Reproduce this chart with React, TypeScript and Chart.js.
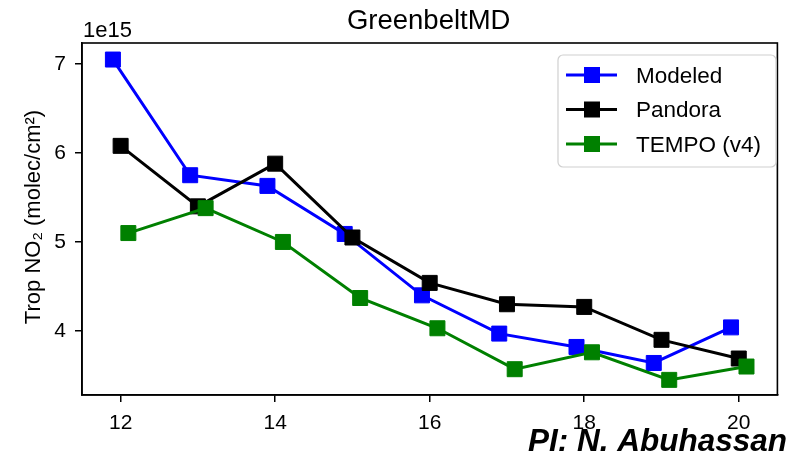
import React, { useEffect, useRef } from "react";
import { Chart, registerables } from "chart.js";

Chart.register(...registerables);

// ---- data (values in units of 1e15 molec/cm^2) ----
const HOURS = [12, 13, 14, 15, 16, 17, 18, 19, 20];
const MODELED = [7.05, 5.75, 5.63, 5.09, 4.4, 3.97, 3.82, 3.64, 4.04];
const PANDORA = [6.08, 5.4, 5.88, 5.05, 4.54, 4.3, 4.27, 3.9, 3.69];
const TEMPO = [5.1, 5.38, 5.0, 4.37, 4.03, 3.57, 3.76, 3.45, 3.6];
const SERIES_NAMES = ["Modeled", "Pandora", "TEMPO (v4)"];
const SERIES_COLORS = ["#0000ff", "#000000", "#008000"];
const X_OFFSETS = [-0.1, 0, 0.1];
const X_TICKS = [12, 14, 16, 18, 20];
const Y_TICKS = [4, 5, 6, 7];
const X_MIN = 11.5;
const X_MAX = 20.5;
const Y_MIN = 3.28;
const Y_MAX = 7.236;

const TITLE = "GreenbeltMD";
const Y_LABEL = "Trop NO\u2082 (molec/cm\u00B2)";
const OFFSET_TEXT = "1e15";
const CREDIT = "PI: N. Abuhassan";

const FONT = '"Liberation Sans", Arial, Helvetica, sans-serif';
const W = 789;
const H = 467;

const decorPlugin = {
  id: "decor",
  afterDatasetsDraw(chart: any) {
    const { ctx, chartArea: a } = chart;
    ctx.save();
    ctx.strokeStyle = "#000";
    ctx.lineWidth = 1.6;
    ctx.strokeRect(a.left, a.top, a.right - a.left, a.bottom - a.top);
    ctx.restore();
  },
  afterDraw(chart: any) {
    const { ctx, chartArea: a } = chart;
    ctx.save();
    ctx.fillStyle = "#000";
    // title
    ctx.font = `27.5px ${FONT}`;
    ctx.textAlign = "center";
    ctx.textBaseline = "alphabetic";
    ctx.fillText(TITLE, (a.left + a.right) / 2 - 1, 29);
    // offset text
    ctx.font = `22px ${FONT}`;
    ctx.textAlign = "left";
    ctx.fillText(OFFSET_TEXT, a.left + 1, 36.5);
    // y label
    ctx.save();
    ctx.translate(39.5, (a.top + a.bottom) / 2 - 2);
    ctx.rotate(-Math.PI / 2);
    ctx.font = `22px ${FONT}`;
    ctx.textAlign = "center";
    ctx.fillText(Y_LABEL, 0, 0);
    ctx.restore();
    // credit
    ctx.font = `italic bold 31.5px ${FONT}`;
    ctx.textAlign = "right";
    ctx.fillText(CREDIT, 787, 451);

    // legend
    const bx = 558, by = 55, bw = 218, bh = 112, r = 5;
    ctx.beginPath();
    ctx.moveTo(bx + r, by);
    ctx.arcTo(bx + bw, by, bx + bw, by + bh, r);
    ctx.arcTo(bx + bw, by + bh, bx, by + bh, r);
    ctx.arcTo(bx, by + bh, bx, by, r);
    ctx.arcTo(bx, by, bx + bw, by, r);
    ctx.closePath();
    ctx.fillStyle = "rgba(255,255,255,0.8)";
    ctx.fill();
    ctx.strokeStyle = "#d0d0d0";
    ctx.lineWidth = 1.2;
    ctx.stroke();
    const rowsY = [75, 109.5, 144];
    SERIES_NAMES.forEach((name, i) => {
      const cy = rowsY[i];
      const c = SERIES_COLORS[i];
      ctx.strokeStyle = c;
      ctx.lineWidth = 3;
      ctx.beginPath();
      ctx.moveTo(566, cy);
      ctx.lineTo(617, cy);
      ctx.stroke();
      ctx.fillStyle = c;
      ctx.fillRect(592 - 8, cy - 8, 16, 16);
      ctx.fillStyle = "#000";
      ctx.font = `22.5px ${FONT}`;
      ctx.textAlign = "left";
      ctx.textBaseline = "alphabetic";
      ctx.fillText(name, 636, cy + 7.8);
    });
    ctx.restore();
  },
};

export default function App() {
  const ref = useRef<HTMLCanvasElement | null>(null);

  useEffect(() => {
    if (!ref.current) return;
    const values = [MODELED, PANDORA, TEMPO];
    const orders = [3, 2, 1];
    const datasets = values.map((vals, s) => ({
      label: SERIES_NAMES[s],
      data: HOURS.map((h, i) => ({ x: h + X_OFFSETS[s], y: vals[i] })),
      borderColor: SERIES_COLORS[s],
      backgroundColor: SERIES_COLORS[s],
      borderWidth: 3,
      pointStyle: "rect",
      pointRadius: 10.6,
      pointBorderWidth: 1,
      pointBorderColor: SERIES_COLORS[s],
      pointBackgroundColor: SERIES_COLORS[s],
      tension: 0,
      order: orders[s],
    }));

    const chart = new Chart(ref.current, {
      type: "line",
      data: { datasets } as any,
      options: {
        responsive: false,
        animation: false,
        devicePixelRatio: 1,
        layout: { padding: { top: 43, right: 2, left: 0, bottom: 0 } },
        plugins: {
          legend: { display: false },
          tooltip: { enabled: false },
          title: { display: false },
        },
        scales: {
          x: {
            type: "linear",
            min: X_MIN,
            max: X_MAX,
            afterBuildTicks: (scale: any) => {
              scale.ticks = X_TICKS.map((v) => ({ value: v }));
            },
            afterFit: (scale: any) => {
              scale.height = 72;
            },
            grid: {
              display: true,
              drawOnChartArea: false,
              drawTicks: true,
              tickLength: 7,
              color: "#000",
              lineWidth: 1.5,
            },
            border: { display: true, color: "#000", width: 1.6 },
            ticks: {
              color: "#000",
              font: { family: FONT, size: 21 },
              padding: 9,
              maxRotation: 0,
              autoSkip: false,
              callback: (v: any) => String(v),
            },
          },
          y: {
            type: "linear",
            min: Y_MIN,
            max: Y_MAX,
            afterBuildTicks: (scale: any) => {
              scale.ticks = Y_TICKS.map((v) => ({ value: v }));
            },
            afterFit: (scale: any) => {
              scale.width = 82;
            },
            grid: {
              display: true,
              drawOnChartArea: false,
              drawTicks: true,
              tickLength: 7,
              color: "#000",
              lineWidth: 1.5,
            },
            border: { display: true, color: "#000", width: 1.6 },
            ticks: {
              color: "#000",
              font: { family: FONT, size: 21 },
              padding: 9,
              autoSkip: false,
              callback: (v: any) => String(v),
            },
          },
        },
      } as any,
      plugins: [decorPlugin],
    });
    return () => chart.destroy();
  }, []);

  return (
    <div
      style={{
        position: "fixed",
        left: 0,
        top: 0,
        width: W,
        height: H,
        background: "#fff",
      }}
    >
      <canvas ref={ref} width={W} height={H} style={{ display: "block" }} />
    </div>
  );
}
